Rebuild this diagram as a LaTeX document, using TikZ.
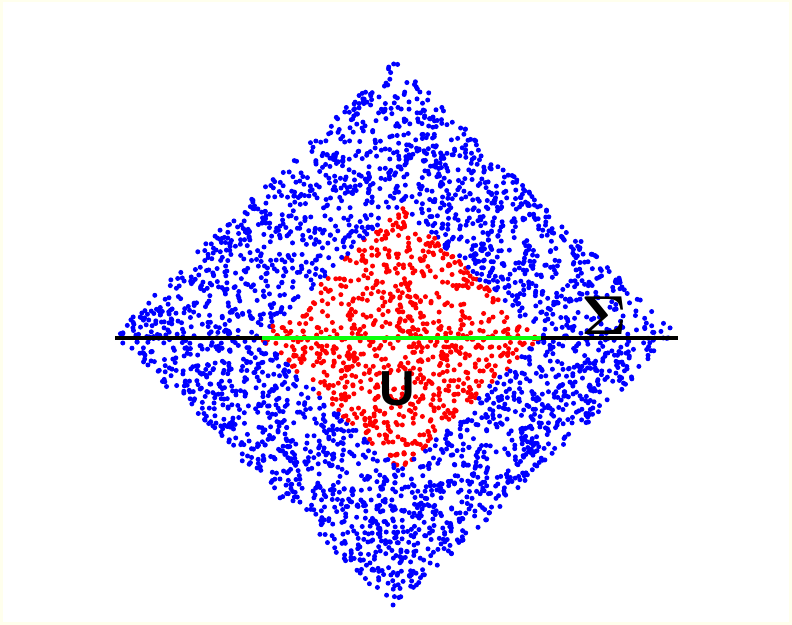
\documentclass[tikz,border=0pt]{standalone}
\usepackage{amsmath,amssymb}
\usepackage{graphicx}
\usepackage{fontspec}
\setsansfont{Liberation Sans}
\usepackage{xcolor}
\usepackage{tikz}
\definecolor{dotblue}{rgb}{0,0,1}
\definecolor{dotred}{rgb}{1,0,0}
\definecolor{cutgreen}{rgb}{0.05,1,0.05}
\definecolor{paperedge}{rgb}{1,1,0.93}

\begin{document}
\begin{tikzpicture}[
  x=0.025cm, y=-0.025cm,
  dot/.style={fill, draw=none},
  cut/.style={line width=2.5pt},
  label/.style={inner sep=0pt, anchor=center},
]

% Frame
\useasboundingbox (0,0) rectangle (792,625);
\fill[paperedge] (0,0) rectangle (792,625);
\fill[white] (3,2) rectangle (789,622);

% Point cloud (outer diamond, inner region red)
\pgfmathsetseed{20231}
\foreach \i in {1,...,3600} {
  \pgfmathsetmacro\s{rnd}
  \pgfmathsetmacro\t{rnd}
  \pgfmathsetmacro\px{395 + 283*(\s-\t)}
  \pgfmathsetmacro\py{335 + 275*(\s+\t-1)}
  \pgfmathtruncatemacro\inside{abs(\px-400)/140 + abs(\py-338)/133 < 1}
  \ifnum\inside=1 \def\dotcol{dotred}\else\def\dotcol{dotblue}\fi
  \fill[dot, \dotcol] (\px,\py) circle[radius=2.5];
}

% Interface line
\coordinate (lineL) at (115,338);
\coordinate (lineR) at (678,338);
\coordinate (cutL) at (262,338);
\coordinate (cutR) at (541,338);
\draw[cut, black] (lineL) -- (lineR);
\draw[cut, cutgreen] (cutL) -- (cutR);

% Labels
\node[label] (sigma) at (604,316) {\scalebox{3.9}{$\boldsymbol{\Sigma}$}};
\node[label, font=\fontsize{35}{35}\selectfont\sffamily\bfseries] (udom) at (397,389) {U};

\end{tikzpicture}
\end{document}
